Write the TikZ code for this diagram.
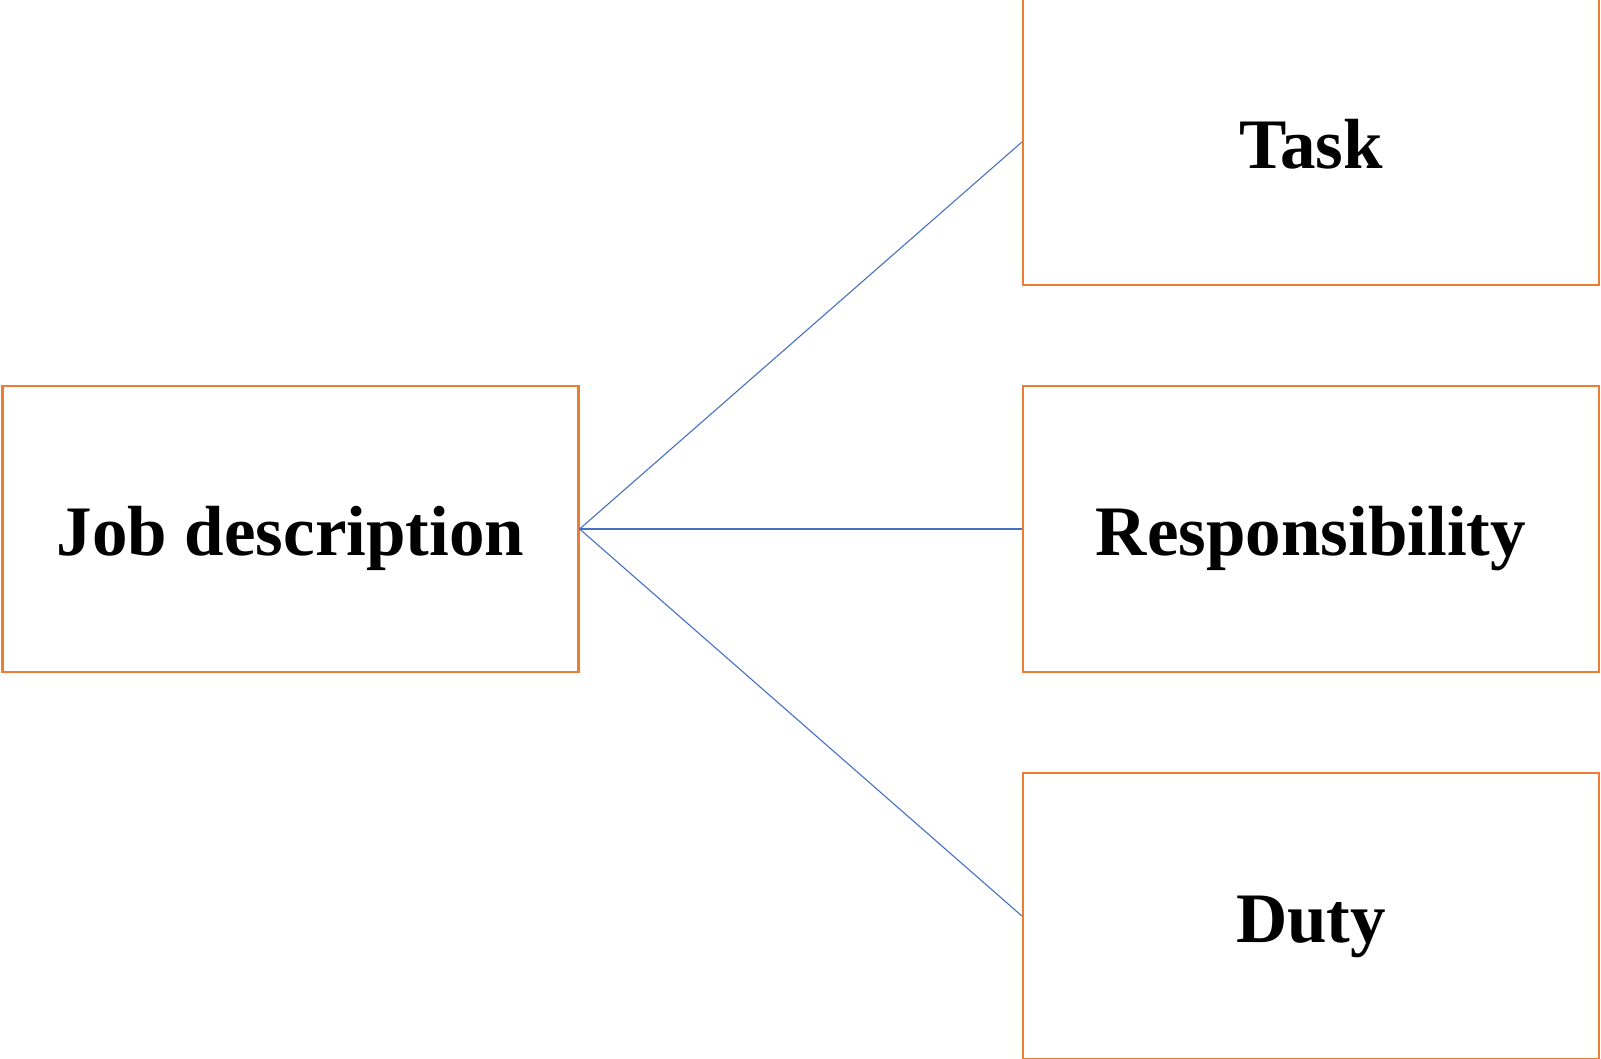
\documentclass[tikz,border=0pt]{standalone}
\usepackage{fontspec}
\setmainfont{Liberation Serif}
\definecolor{boxorange}{HTML}{ED7D31}
\definecolor{lineblue}{HTML}{4472C4}
\begin{document}
\begin{tikzpicture}[x=1pt,y=-1pt,
  box/.style={draw=boxorange, line width=2.2pt, minimum width=576pt, minimum height=286pt, inner sep=0pt, text height=60pt, text depth=7pt, font=\fontsize{71}{80}\selectfont\bfseries},
  link/.style={draw=lineblue, line width=1.1pt}]
\useasboundingbox (0,0) rectangle (1601,1059);
\node[box] (job) at (290.5,529) {Job description};
\node[box] (task) at (1311,142) {Task};
\node[box] (resp) at (1311,529) {Responsibility};
\node[box] (duty) at (1311,916) {Duty};
\draw[link] (job.east) -- (task.west);
\draw[link] (job.east) -- (resp.west);
\draw[link] (job.east) -- (duty.west);
\end{tikzpicture}
\end{document}
